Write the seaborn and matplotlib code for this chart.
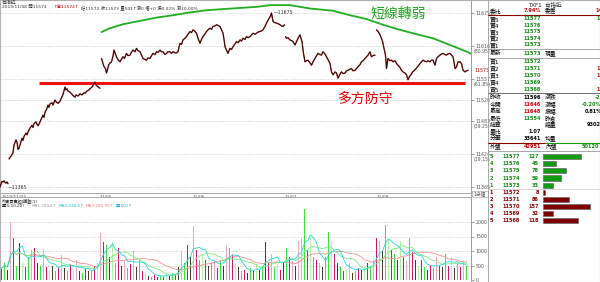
import matplotlib
matplotlib.use("Agg")
import matplotlib.pyplot as plt
from matplotlib.lines import Line2D
from matplotlib.patches import Rectangle
import numpy as np
import pandas as pd
import seaborn as sns

# ---------------- data ----------------
# price trace per session: (bar index, price)
sess0 = [(0, 11365), (1, 11370), (2, 11375), (3, 11374), (4, 11376), (5, 11373), (6, 11372), (7, 11374), (8, 11371)]
sess1 = [(9, 11415), (11, 11420), (13, 11426), (14, 11440), (16, 11449), (17, 11445), (18, 11432), (19, 11434),
         (20, 11440), (22, 11452), (23, 11448), (24, 11455), (26, 11461), (27, 11458), (28, 11463), (30, 11470),
         (32, 11475), (33, 11471), (34, 11478), (36, 11481), (37, 11477), (38, 11474), (39, 11477), (41, 11485),
         (43, 11493), (44, 11489), (45, 11498), (47, 11505), (48, 11511), (49, 11507), (50, 11513), (52, 11515),
         (53, 11511), (55, 11520), (56, 11517), (58, 11514), (60, 11518), (61, 11522), (63, 11530), (65, 11543),
         (66, 11538), (67, 11540), (68, 11536), (70, 11534), (71, 11532), (73, 11528), (75, 11525), (76, 11529),
         (78, 11527), (80, 11531), (82, 11529), (84, 11533), (85, 11532), (87, 11536), (89, 11538), (90, 11540),
         (92, 11543), (94, 11549), (95, 11552), (96, 11547), (97, 11545), (99, 11542), (100, 11541)]
sess2 = [(101.5, 11594), (102.5, 11588), (103.5, 11582), (104.5, 11578), (105.5, 11576), (106.5, 11568),
         (107.5, 11574), (108.5, 11582), (110, 11586), (111.5, 11588), (113, 11598), (114, 11609), (115, 11604),
         (116.5, 11597), (118, 11592), (120, 11588), (121.5, 11593), (123, 11597), (124.5, 11594), (126.5, 11603),
         (128, 11599), (130, 11600), (131.5, 11605), (133, 11609), (135, 11606), (136.5, 11612), (138, 11608),
         (140, 11606), (141.5, 11600), (143, 11594), (145, 11592), (146.5, 11591), (148, 11595), (150, 11594),
         (151.5, 11599), (153, 11603), (155, 11601), (156.5, 11606), (158, 11605), (160, 11609), (161.5, 11606),
         (163, 11606), (165, 11601), (166.5, 11603), (168, 11606), (170, 11606), (171.5, 11603), (173, 11606),
         (175, 11604), (176.5, 11604), (178, 11606), (179, 11614), (180, 11621), (181.5, 11619), (183, 11627),
         (185, 11630), (186.5, 11633), (188, 11637), (190, 11642), (191.5, 11640), (193, 11645), (195, 11642),
         (196.5, 11639), (198, 11630), (200, 11621), (201.5, 11628), (203, 11633), (205, 11638), (206.5, 11642),
         (208, 11645), (210, 11648), (211.5, 11646), (213, 11651), (215, 11652), (216.5, 11654), (218, 11653),
         (220, 11651), (221.5, 11645), (223, 11639), (224, 11628), (225, 11615), (226.5, 11609), (228, 11603),
         (229, 11608), (230, 11612), (231.5, 11610), (233, 11615), (235, 11620), (236.5, 11624), (238, 11622),
         (240, 11627), (241.5, 11625), (243, 11630), (245, 11628), (246.5, 11633), (248, 11631), (250, 11633),
         (251.5, 11636), (253, 11639), (255, 11637), (256.5, 11639), (258, 11641), (260, 11642), (261.5, 11643),
         (263, 11645), (265, 11651), (266.5, 11657), (268, 11662), (270, 11668), (271.5, 11675), (273, 11660),
         (274.5, 11658), (276.5, 11657), (278, 11656), (280, 11654), (281.5, 11652), (283, 11651), (284.5, 11654)]
sess3 = [(285.5, 11633), (286.5, 11630), (288, 11631), (290, 11627), (291.5, 11626), (293, 11624), (295, 11618),
         (296.5, 11624), (298, 11630), (300, 11636), (301, 11630), (302, 11624), (303.5, 11603), (305, 11588),
         (306.5, 11590), (308, 11591), (310, 11586), (311.5, 11582), (313, 11588), (315, 11594), (316.5, 11599),
         (318, 11603), (320, 11601), (321.5, 11600), (323, 11606), (325, 11602), (326.5, 11597), (328, 11592),
         (330, 11585), (331.5, 11570), (333, 11565), (335, 11570), (336.5, 11568), (338, 11559), (340, 11566),
         (341.5, 11570), (343, 11567), (345, 11568), (346.5, 11572), (348, 11573), (350, 11575), (351.5, 11576),
         (353, 11572), (355, 11573), (356.5, 11576), (358, 11579), (360, 11583), (361.5, 11588), (363, 11590),
         (365, 11594), (366.5, 11597), (368, 11600), (370, 11606), (371.5, 11597), (373, 11599), (375, 11600)]
sess4 = [(376.5, 11645), (378, 11642), (379.5, 11638), (381, 11632), (382.5, 11625), (384, 11612), (385.5, 11600),
         (386.5, 11576), (388, 11594), (390, 11590), (391.5, 11591), (393, 11588), (395, 11590), (396.5, 11585),
         (398, 11582), (400, 11578), (401.5, 11573), (403, 11570), (405, 11568), (406.5, 11565), (408, 11556),
         (409.5, 11562), (411, 11565), (412.5, 11570), (414, 11572), (416, 11576), (418, 11580), (420, 11585),
         (421.5, 11588), (423, 11591), (425, 11589), (426.5, 11588), (428, 11590), (430, 11588), (431.5, 11591),
         (433, 11591), (435, 11582), (436.5, 11594), (438, 11597), (440, 11600), (441.5, 11602), (443, 11603),
         (445, 11601), (446.5, 11600), (448, 11602), (450, 11603), (451.5, 11600), (453, 11597), (454, 11588),
         (455, 11576), (456.5, 11579), (458, 11588), (460, 11588), (461.5, 11585), (463, 11573), (465, 11570),
         (466.5, 11572), (468, 11573)]
sessions = [sess0, sess1, sess2, sess3, sess4]

# long moving average (green)
ma_line = [(101.5, 11641), (110, 11648), (123, 11655), (140, 11661), (157, 11667), (173, 11671), (190, 11676),
           (207, 11680), (223, 11682), (240, 11684), (257, 11686), (270, 11689), (290, 11689), (310, 11683),
           (333, 11679), (350, 11671), (367, 11664), (383, 11654), (400, 11645), (417, 11637), (433, 11630),
           (450, 11618), (467, 11606), (475, 11599)]

support_level = 11550
support_start = 39
support_end = 465

price_ticks = [11675, 11616, 11557, 11520, 11483, 11424, 11365]
pct_notes = {11616: "(80.95)", 11557: "(61.85)", 11483: "(39.25)", 11424: "(19.15)"}
last_price = 11573
high_price = 11675
low_price = 11365

day_pos = [2, 100, 193, 285, 377]
day_labels = ["2019/11/04", "11/05", "11/06", "11/07", "11/08"]

# volume bars
volumes = [400, 600, 350, 2000, 1450, 500, 1270, 600, 450, 800,
           1040, 1100, 600, 500, 1070, 450, 350, 500, 300, 450,
           870, 400, 300, 550, 350, 700, 300, 250, 400, 300,
           350, 500, 600, 1630, 1320, 1200, 800, 1320, 600, 1100,
           500, 650, 400, 550, 1040, 450, 700, 300, 250, 150,
           120, 180, 100, 150, 120, 200, 150, 250, 200, 450,
           1000, 600, 1200, 800, 1860, 1040, 700, 900, 700, 500,
           600, 700, 400, 700, 500, 1200, 1100, 850, 600, 450,
           300, 350, 250, 400, 300, 550, 350, 500, 1320, 600,
           900, 450, 700, 350, 600, 1100, 800, 650, 500, 1350,
           1450, 2450, 1040, 1500, 800, 700, 600, 450, 800, 1670,
           1350, 900, 600, 450, 300, 350, 600, 250, 300, 400,
           350, 450, 600, 500, 700, 1440, 1350, 1000, 1900, 1400,
           1040, 900, 700, 1350, 800, 650, 1440, 950, 700, 500,
           700, 450, 350, 500, 400, 800, 500, 450, 900, 500,
           800, 400, 600, 450, 600, 500]
vol_kind = list("rgkprgklrg" "prkgprlkgr" "pkgrlpkgrk" "grlprgklgr" "kpgrpkgrlk"
                "grkgrlkgrk" "pgrkprglrk" "gprgkpgrlk" "grkgrlkgkr" "pglrkgrpkp"
                "pgrlgrpkgg" "lrkgrlpkgr" "klrgprpkgl" "rgklrpgrkl" "rgkrgprkgr" "lkgrpg")
vol_ticks = [0, 500, 1000, 1500, 2000]

# quote table
ask_bid_labels = ["賣5", "賣4", "賣3", "賣2", "賣1", "最新", "買1", "買2", "買3", "買4", "買5"]
ask_bid_prices = ["11577", "11576", "11575", "11574", "11573", "11573", "11572", "11571", "11570", "11569", "11568"]
stat_labels = ["昨收", "今開", "最高", "最低", "結算", "量比", "分筆", "外盤"]
stat_values = ["11596", "11646", "11648", "11554", "", "1.07", "33641", "42951"]
stat_colors = ["k", "r", "r", "g", "k", "k", "k", "r"]
stat_labels2 = ["漲跌", "漲幅", "振幅", "昨倉", "總量", "", "均量", "內盤"]
stat_right = ["-23", "-0.20%", "0.81%", "", "93025", "", "", "50120"]
stat_right_colors = ["g", "g", "k", "k", "k", "k", "k", "g"]

depth_level = [5, 4, 3, 2, 1, 1, 2, 3, 4, 5]
depth_price = [11577, 11576, 11575, 11574, 11573, 11572, 11571, 11570, 11569, 11568]
depth_qty = [127, 45, 78, 59, 33, 8, 86, 157, 32, 118]
depth_side = ["ask"] * 5 + ["bid"] * 5

# ---------------- style ----------------
sns.set_theme(style="white")
plt.rcParams["font.family"] = ["DejaVu Sans", "Noto Sans CJK TC"]
plt.rcParams["axes.unicode_minus"] = False
plt.rcParams["path.simplify"] = False

W, H = 600, 282
fig = plt.figure(figsize=(6, 2.82), dpi=100)
fig.patch.set_facecolor("white")

GRID = "#c8c8c8"
FRAME = "#9a9a9a"
TXT = "#555555"
GREEN_T = "#128a12"
RED_T = "#d00000"
DRED = "#8b0000"
cmap_t = {"k": "black", "r": RED_T, "g": GREEN_T}


def T(x, y, s, size=3.6, color="black", ha="left", va="center", **kw):
    fig.text(x / W, 1 - y / H, s, fontsize=size, color=color, ha=ha, va=va, **kw)


def HL(y, x0, x1, color=FRAME, lw=0.6):
    fig.add_artist(Line2D([x0 / W, x1 / W], [1 - y / H, 1 - y / H], transform=fig.transFigure, color=color, lw=lw))


def VL(x, y0, y1, color=FRAME, lw=0.6):
    fig.add_artist(Line2D([x / W, x / W], [1 - y0 / H, 1 - y1 / H], transform=fig.transFigure, color=color, lw=lw))


def rect(x0, y0, x1, y1):
    return [x0 / W, 1 - y1 / H, (x1 - x0) / W, (y1 - y0) / H]


# price scale: 11675 at y=13 px, 0.5613 px per point
PX = 174 / 310.0
top_price = 11675 + (13 - 2) / PX
bot_price = 11675 - (192.5 - 13) / PX

# ---------------- price panel (frame, grid, ticks) ----------------
ax = fig.add_axes(rect(0, 2, 471, 192.5))
for v in price_ticks:
    ax.axhline(v, color=GRID, lw=0.5, ls=(0, (2, 2)), zorder=0)
ax.set_xlim(0, 471)
ax.set_ylim(bot_price, top_price)
ax.yaxis.tick_right()
ax.set_yticks(price_ticks)
ax.set_yticklabels([str(v) for v in price_ticks])
ax.tick_params(axis="y", labelsize=3.4, colors=TXT, length=2, width=0.4, pad=1.5, direction="out")
ax.set_xticks(day_pos)
ax.set_xticklabels(day_labels)
ax.tick_params(axis="x", labelsize=3.2, colors=TXT, length=1.5, width=0.4, pad=0.5, direction="out")
for lbl in ax.get_xticklabels():
    lbl.set_ha("left")
for sp in ax.spines.values():
    sp.set_color(FRAME)
    sp.set_linewidth(0.6)
ax.spines["top"].set_visible(False)

for v, note in pct_notes.items():
    ax.text(1.005, (v - bot_price) / (top_price - bot_price) - 0.028, note, transform=ax.transAxes,
            fontsize=3.3, color=TXT, ha="left", va="center")
ax.text(1.008, (last_price - bot_price) / (top_price - bot_price), str(last_price), transform=ax.transAxes,
        fontsize=3.4, color=RED_T, ha="left", va="center")

# ---------------- price panel overlay (all plotted lines on top) ----------------
axp = fig.add_axes(rect(0, 2, 471, 192.5), zorder=5)
axp.patch.set_alpha(0)
axp.set_xlim(0, 471)
axp.set_ylim(bot_price, top_price)
mdf = pd.DataFrame(ma_line, columns=["t", "price"])
sns.lineplot(data=mdf, x="t", y="price", ax=axp, color="#1fae1f", lw=1.3, estimator=None, sort=False)
axp.plot([support_start, support_end], [support_level, support_level], color="#f01010", lw=2.2,
         solid_capstyle="butt")
for s in sessions:
    arr = np.array(s, dtype=float)
    axp.plot(arr[:, 0], arr[:, 1], color="#c03030", lw=1.0, zorder=6)
    axp.plot(arr[:, 0], arr[:, 1], color="#1a0a0a", lw=0.6, zorder=7)
axp.set_xlim(0, 471)
axp.set_ylim(bot_price, top_price)
axp.axis("off")
axp.text(274, high_price, "—" + str(high_price), fontsize=3.3, color="#333333", ha="left", va="center")
axp.text(8, low_price - 1, "—" + str(low_price), fontsize=3.3, color="#333333", ha="left", va="center")
axp.text(398, 11673, "短線轉弱", fontsize=10, color="#1fa51f", ha="center", va="center",
         family=["Noto Sans CJK TC"])
axp.text(365, 11522, "多方防守", fontsize=10, color="#e80000", ha="center", va="center",
         family=["Noto Sans CJK TC"])

# info text at top
T(2, 2.6, "台指近", size=3.5, color="#333333")
T(2, 7.4, "2019/11/08 開11573", size=3.2, color="#333333")
T(53, 7.4, "↑高11574↑", size=3.2, color=RED_T)
T(81, 7.4, "低11572 收11573 量501↑漲0 幅+0 振0.02% 漲10.00%", size=3.2, color="#333333")

# ---------------- strip between panels ----------------
HL(196.7, 0, 471)
T(473, 193.6, "1分鐘", size=3.3, color=TXT)
fig.add_artist(Rectangle((471.5 / W, 1 - 196.5 / H), 16 / W, 6 / H, transform=fig.transFigure,
                         fill=False, ec=FRAME, lw=0.4))
T(2, 200.4, "外資買賣超|輔盤(1)", size=3.0, color="#222222")

# ---------------- volume panel ----------------
axv = fig.add_axes(rect(0, 198, 471, 280))
axv.patch.set_alpha(0)
vdf = pd.DataFrame({"slot": np.arange(len(volumes)), "vol": volumes, "kind": vol_kind})
vol_pal = {"r": "#d0185c", "p": "#f2a6bc", "g": "#3ee03e", "l": "#b2f2a4", "k": "#4a3a28"}
for v in vol_ticks[1:]:
    axv.axhline(v, color=GRID, lw=0.5, ls=(0, (2, 2)), zorder=0)
sns.barplot(data=vdf, x="slot", y="vol", hue="kind", palette=vol_pal, native_scale=True, dodge=False,
            width=0.55, errorbar=None, legend=False, saturation=1, linewidth=0, ax=axv)
vs = pd.Series(volumes, dtype=float)
mas = pd.DataFrame({"slot": np.arange(len(volumes)),
                    "ma5": vs.rolling(5, min_periods=1).mean(),
                    "ma10": vs.rolling(10, min_periods=1).mean(),
                    "ma20": vs.rolling(20, min_periods=1).mean()})
sns.lineplot(data=mas, x="slot", y="ma20", ax=axv, color="#f09090", lw=0.6)
sns.lineplot(data=mas, x="slot", y="ma10", ax=axv, color="#7af07a", lw=0.6)
sns.lineplot(data=mas, x="slot", y="ma5", ax=axv, color="#22d8d8", lw=0.6)
axv.set_xlim(-0.5, 156.5)
axv.set_ylim(0, (280 - 198) / 14.5 * 500)
axv.set_xlabel("")
axv.set_ylabel("")
axv.set_xticks([])
axv.yaxis.tick_right()
axv.set_yticks(vol_ticks)
axv.set_yticklabels([str(v) for v in vol_ticks])
axv.tick_params(axis="y", labelsize=3.4, colors=TXT, length=2, width=0.4, pad=1.5)
for sp in axv.spines.values():
    sp.set_color(FRAME)
    sp.set_linewidth(0.6)
axv.spines["top"].set_visible(False)
axv.spines["bottom"].set_visible(False)

T(2, 206.2, "量(5,10,20)", size=3.0, color="#222222")
T(32, 206.2, "MA1:284.6↑", size=3.0, color="#9a9a9a")
T(59, 206.2, "MA2:216.5↑", size=3.0, color="#1cc4c4")
T(86, 206.2, "MA3:280.90↑", size=3.0, color="#f08080")
T(116, 206.2, "量:501↑", size=3.0, color="#20a8e8")

# ---------------- quote table ----------------
VL(471, 0, 282)
VL(488, 0, 282)
T(545, 4.5, "TXF1  台指近", size=4.0, color="#222222", ha="center")
T(490, 11, "委比", size=4.2, color="black")
T(541, 11, "7.94%", size=3.6, color=RED_T, ha="right", weight="bold")
T(545, 11, "委差", size=4.2, color="black")
T(595, 11, "145", size=3.6, color=RED_T, weight="bold")
HL(15, 488, 600, color=DRED, lw=0.8)

ab_y = [19, 25.5, 32, 38.5, 45, 53.5, 61.5, 68.5, 75.5, 82.5, 89.5]
for y, lab, pr in zip(ab_y, ask_bid_labels, ask_bid_prices):
    T(490, y, lab, size=4.2, color="black")
    T(541, y, pr, size=3.6, color=GREEN_T, ha="right", weight="bold")
T(545, 53.5, "現量", size=4.2, color="black")
T(596, 19, "1", size=3.6, color=GREEN_T, weight="bold")
for y in (68.5, 75.5, 89.5):
    T(596, y, "1", size=3.6, color=RED_T, weight="bold")
HL(49.5, 488, 600)
HL(57.5, 488, 600)
HL(93.3, 488, 600, color="#555555")

st_y = [97.3, 104.5, 111.5, 118.3, 125, 131.7, 138.5, 146]
right_x = [595, 582, 585, 585, 587, 585, 585, 582]
for i, y in enumerate(st_y):
    T(490, y, stat_labels[i], size=4.2, color="black")
    if stat_values[i]:
        T(541, y, stat_values[i], size=3.6, color=cmap_t[stat_colors[i]], ha="right", weight="bold")
    if stat_labels2[i]:
        T(545, y, stat_labels2[i], size=4.2, color="black")
    if stat_right[i]:
        T(right_x[i], y, stat_right[i], size=3.6, color=cmap_t[stat_right_colors[i]], weight="bold")
HL(142.5, 488, 545, color=DRED, lw=0.8)
HL(142.5, 545, 600, color="#10a010", lw=0.8)
HL(150.5, 488, 600)

# depth of book
d_y0, d_step = 156.7, 7.11
for i in range(10):
    y = d_y0 + i * d_step
    col = GREEN_T if depth_side[i] == "ask" else DRED
    T(491.5, y, str(depth_level[i]), size=3.6, color=col, ha="center", weight="bold")
    T(502, y, str(depth_price[i]), size=3.6, color=col, weight="bold")
    T(539, y, str(depth_qty[i]), size=3.6, color=col, ha="right", weight="bold")
HL(189.3, 488, 600, color="#bbbbbb", lw=0.4)

axd = fig.add_axes(rect(543, d_y0 - d_step / 2, 600, d_y0 + 9.5 * d_step))
axd.patch.set_alpha(0)
ddf = pd.DataFrame({"row": np.arange(10), "qty": depth_qty, "side": depth_side})
sns.barplot(data=ddf, x="qty", y="row", hue="side", orient="h", native_scale=True, dodge=False,
            palette={"ask": "#139a13", "bid": "#7e0000"}, width=0.72, errorbar=None, legend=False,
            saturation=1, edgecolor="#6a6a6a", linewidth=0.5, ax=axd)
axd.set_xlim(0, 57 / 0.297)
axd.set_ylim(9.5, -0.5)
axd.axis("off")

# outer frame
fig.add_artist(Rectangle((0, 0), 1, 1, transform=fig.transFigure, fill=False, ec="#b0b0b0", lw=0.8))

fig.savefig("out.png", dpi=100, facecolor="white")

# safety check: make sure the first session's trace is really visible in the saved picture;
# if not, draw the price trace again as top-level figure artists in the price panel's data space
img = plt.imread("out.png")
region = img[95:150, 20:85, :3]
dark = ((region[..., 0] < 0.45) & (region[..., 1] < 0.35) & (region[..., 2] < 0.35)).sum()
if dark < 15:
    for s in sessions:
        arr = np.array(s, dtype=float)
        fig.add_artist(Line2D(arr[:, 0], arr[:, 1], transform=axp.transData, color="#c03030", lw=1.0,
                              zorder=50))
        fig.add_artist(Line2D(arr[:, 0], arr[:, 1], transform=axp.transData, color="#1a0a0a", lw=0.6,
                              zorder=51))
    fig.savefig("out.png", dpi=100, facecolor="white")
